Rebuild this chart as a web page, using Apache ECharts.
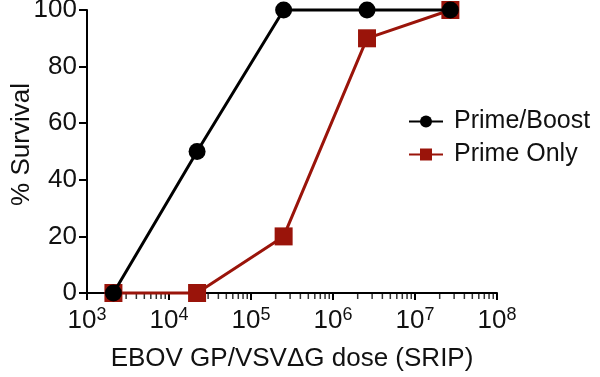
<!DOCTYPE html>
<html>
<head>
<meta charset="utf-8">
<script src="https://cdn.jsdelivr.net/npm/echarts@6/dist/echarts.min.js"></script>
<style>
  html, body { margin: 0; padding: 0; background: #fff; }
  #main { width: 600px; height: 377px; }
</style>
</head>
<body>
<div id="main"></div>
<script>
    // doses (SRIP) and survival
    var doses = [2.1e3, 2.2e4, 2.5e5, 2.6e6, 2.7e7];
    var primeBoost = [0, 50, 100, 100, 100];
    var primeOnly = [0, 0, 20, 90, 100];

    // minor ticks of the log axis, 2..9 in every decade
    var minorTicks = [];
    for (var e = 3; e < 8; e++) {
        for (var k = 2; k <= 9; k++) {
            minorTicks.push([k * Math.pow(10, e), 0]);
        }
    }

    function pairs(ys) {
        return doses.map(function (d, i) { return [d, ys[i]]; });
    }

    var font = 'Liberation Sans, Arial, sans-serif';
    var red = '#9a140a';

    var chart = echarts.init(document.getElementById('main'));
    chart.setOption({
        animation: false,
        textStyle: {fontFamily: font},
        grid: {left: 87, right: 103, top: 10, bottom: 84, containLabel: false, outerBoundsMode: 'none'},
        legend: {
            data: ['Prime/Boost', 'Prime Only'],
            orient: 'vertical',
            left: 403,
            top: 104,
            itemWidth: 34,
            itemHeight: 15,
            itemGap: 8,
            textStyle: {fontSize: 25, color: '#111', fontFamily: font, padding: [0, 0, 0, 6]}
        },
        xAxis: {
            type: 'log',
            logBase: 10,
            min: 1e3,
            max: 1e8,
            name: 'EBOV GP/VSV\u0394G dose (SRIP)',
            nameLocation: 'middle',
            nameGap: 53,
            nameTextStyle: {fontSize: 26, color: '#111'},
            axisLine: {lineStyle: {color: '#000', width: 2}},
            axisTick: {length: 7, lineStyle: {width: 2}},
            splitLine: {show: false},
            axisLabel: {
                margin: 13,
                formatter: function (v) {
                    return '{b|10}{sup|' + Math.round(Math.log10(v)) + '}';
                },
                rich: {
                    b: {fontSize: 26, color: '#111'},
                    sup: {fontSize: 18, verticalAlign: 'top', padding: [0, 0, 12, 0], color: '#111'}
                },
                color: '#111'
            }
        },
        yAxis: {
            type: 'value',
            min: 0,
            max: 100,
            interval: 20,
            name: '% Survival',
            nameLocation: 'middle',
            nameGap: 52,
            nameMoveOverlap: false,
            nameTextStyle: {fontSize: 26, color: '#111', padding: [0, 0, 0, 14]},
            axisLine: {show: true, lineStyle: {color: '#000', width: 2}},
            axisTick: {show: true, length: 8, lineStyle: {width: 2}},
            splitLine: {show: false},
            axisLabel: {fontSize: 26, color: '#111', margin: 10}
        },
        series: [
            {
                name: 'minor',
                type: 'scatter',
                data: minorTicks,
                symbol: 'rect',
                symbolSize: [1.5, 5],
                symbolOffset: [0, 3.5],
                itemStyle: {color: '#000'},
                silent: true,
                clip: false,
                z: 1
            },
            {
                name: 'Prime Only',
                type: 'line',
                data: pairs(primeOnly),
                symbol: 'rect',
                symbolSize: 18,
                lineStyle: {color: red, width: 3},
                itemStyle: {color: red},
                clip: false,
                z: 2
            },
            {
                name: 'Prime/Boost',
                type: 'line',
                data: pairs(primeBoost),
                symbol: 'circle',
                symbolSize: 17,
                lineStyle: {color: '#000', width: 3},
                itemStyle: {color: '#000'},
                clip: false,
                z: 3
            }
        ]
    });
</script>
</body>
</html>
